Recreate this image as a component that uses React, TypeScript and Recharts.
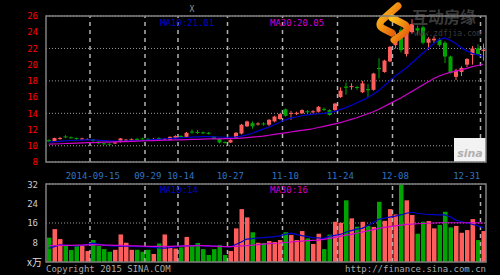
import { ComposedChart, Bar, Line, XAxis, YAxis, CartesianGrid, ReferenceLine, Cell } from "recharts";

// ─── Data ────────────────────────────────────────────────────────────────────
const DATES = [
  "09-02", "09-03", "09-04", "09-05", "09-09", "09-10", "09-11", "09-12",
  "09-15", "09-16", "09-17", "09-18", "09-19", "09-22", "09-23", "09-24", "09-25", "09-26",
  "09-29", "09-30", "10-08", "10-09", "10-10", "10-13", "10-14", "10-15", "10-16", "10-17",
  "10-20", "10-21", "10-22", "10-23", "10-24", "10-27", "10-28", "10-29", "10-30", "10-31",
  "11-03", "11-04", "11-05", "11-06", "11-07", "11-10", "11-11", "11-12", "11-13", "11-14",
  "11-17", "11-18", "11-19", "11-20", "11-21", "11-24", "11-25", "11-26", "11-27", "11-28",
  "12-01", "12-02", "12-03", "12-04", "12-05", "12-08", "12-09", "12-10", "12-11", "12-12",
  "12-15", "12-16", "12-17", "12-18", "12-19", "12-22", "12-23", "12-25", "12-26", "12-29",
  "12-30", "12-31",
];

const OPEN = [
  10.7, 10.5, 10.85, 11.15, 11.05, 10.95, 10.8, 10.78, 10.8, 10.5,
  10.3, 10.25, 10.3, 10.45, 10.65, 10.7, 10.85, 10.9, 10.85, 10.8,
  10.95, 10.8, 10.75, 10.95, 11.2, 11.1, 11.75, 11.7, 11.65, 11.6,
  11.15, 10.85, 10.45, 10.4, 11.0, 11.5, 12.4, 12.8, 12.65, 12.75,
  12.6, 13.0, 13.3, 14.5, 13.95, 13.95, 14.0, 14.25, 14.15, 14.2,
  14.55, 14.4, 14.4, 16.0, 17.3, 17.25, 17.25, 16.6, 17.0, 16.9,
  19.6, 19.1, 20.4, 22.4, 24.3, 21.3, 24.0, 24.5, 24.6, 22.7,
  23.0, 23.1, 22.7, 21.0, 18.5, 19.1, 20.0, 21.2, 22.0, 21.7,
];
const CLOSE = [
  10.55, 10.95, 10.95, 11.05, 10.98, 10.85, 10.9, 10.84, 10.6, 10.3,
  10.2, 10.2, 10.4, 10.9, 10.75, 10.8, 10.78, 10.85, 10.8, 10.85,
  10.85, 10.85, 11.1, 11.2, 11.1, 11.6, 11.65, 11.6, 11.55, 11.5,
  10.85, 10.4, 10.38, 10.7, 11.6, 12.6, 13.0, 12.4, 12.75, 12.65,
  13.2, 13.6, 13.9, 13.7, 14.05, 14.05, 14.4, 14.15, 14.25, 14.8,
  14.45, 13.8, 15.2, 16.8, 17.15, 17.35, 17.15, 17.7, 16.85, 18.9,
  19.45, 20.5, 22.2, 23.5, 21.8, 24.0, 25.0, 24.2, 22.7, 23.2,
  23.2, 22.4, 21.0, 19.0, 19.3, 19.6, 20.7, 22.0, 21.3, 21.85,
];
const HIGH = [
  10.8, 11.0, 11.1, 11.3, 11.15, 11.0, 11.0, 10.9, 10.85, 10.55,
  10.35, 10.3, 10.5, 10.95, 10.85, 10.9, 10.95, 11.0, 10.95, 10.95,
  11.05, 10.95, 11.15, 11.3, 11.3, 11.7, 12.0, 11.95, 11.75, 11.7,
  11.2, 10.9, 10.55, 10.8, 11.7, 12.7, 13.1, 13.0, 12.9, 12.9,
  13.3, 13.7, 14.0, 14.6, 14.3, 14.2, 14.5, 14.4, 14.4, 14.9,
  14.7, 14.5, 15.3, 17.2, 17.8, 17.7, 17.4, 18.0, 17.6, 19.0,
  20.8, 20.6, 22.3, 24.0, 24.6, 24.3, 25.6, 24.8, 24.8, 23.4,
  23.5, 23.3, 22.9, 21.1, 19.5, 19.8, 20.8, 22.3, 22.5, 22.6,
];
const LOW = [
  10.45, 10.45, 10.75, 10.95, 10.9, 10.75, 10.7, 10.7, 10.5, 10.2,
  10.15, 10.12, 10.25, 10.4, 10.55, 10.65, 10.7, 10.8, 10.75, 10.75,
  10.75, 10.7, 10.7, 10.9, 11.0, 11.05, 11.5, 11.45, 11.45, 11.4,
  10.8, 10.3, 10.3, 10.35, 10.95, 11.4, 12.3, 12.1, 12.5, 12.5,
  12.4, 12.9, 13.2, 13.6, 13.2, 13.8, 13.95, 14.0, 14.0, 14.1,
  14.3, 13.7, 14.3, 15.9, 16.3, 16.9, 16.9, 16.5, 16.0, 16.8,
  18.3, 19.0, 20.3, 22.0, 21.5, 21.0, 23.8, 23.6, 22.5, 21.8,
  22.6, 22.2, 20.2, 18.9, 18.1, 18.6, 19.7, 20.0, 21.2, 20.5,
];
const MA10 = [
  10.45, 10.5, 10.55, 10.6, 10.65, 10.68, 10.7, 10.72, 10.72, 10.68,
  10.64, 10.6, 10.57, 10.58, 10.58, 10.6, 10.62, 10.65, 10.7, 10.75,
  10.8, 10.85, 10.9, 10.95, 10.98, 11.02, 11.06, 11.1, 11.12, 11.12,
  11.1, 11.08, 11.05, 11.05, 11.1, 11.2, 11.35, 11.55, 11.8, 12.05,
  12.3, 12.6, 12.9, 13.2, 13.4, 13.55, 13.7, 13.8, 13.9, 13.95,
  14.0, 14.1, 14.25, 14.45, 14.7, 15.0, 15.3, 15.6, 15.95, 16.35,
  16.8, 17.4, 18.0, 18.6, 19.1, 19.6, 20.2, 20.8, 21.4, 22.0,
  22.6, 23.1, 23.3, 23.0, 22.6, 22.1, 21.7, 21.4, 21.2, 21.01,
];
const MA30 = [
  10.2, 10.22, 10.25, 10.28, 10.3, 10.32, 10.35, 10.38, 10.4, 10.42,
  10.44, 10.46, 10.48, 10.5, 10.52, 10.55, 10.57, 10.6, 10.62, 10.64,
  10.66, 10.68, 10.7, 10.72, 10.74, 10.76, 10.78, 10.8, 10.82, 10.84,
  10.85, 10.86, 10.87, 10.88, 10.9, 10.95, 11.0, 11.06, 11.12, 11.2,
  11.3, 11.4, 11.5, 11.6, 11.7, 11.8, 11.9, 12.0, 12.1, 12.25,
  12.4, 12.55, 12.7, 12.85, 13.05, 13.25, 13.45, 13.7, 13.95, 14.2,
  14.5, 14.85, 15.2, 15.55, 15.9, 16.3, 16.7, 17.1, 17.5, 17.9,
  18.3, 18.6, 18.85, 19.05, 19.2, 19.35, 19.55, 19.75, 19.9, 20.05,
];
const VOLUME = [
  10.0, 13.5, 9.4, 6.7, 4.9, 6.6, 6.6, 4.5, 9.0, 6.6,
  5.3, 4.2, 5.0, 11.3, 7.9, 5.0, 5.0, 4.2, 5.0, 3.3,
  7.6, 11.3, 6.3, 5.5, 6.0, 10.3, 6.7, 7.8, 5.3, 2.9,
  5.3, 7.0, 2.9, 4.5, 13.8, 21.7, 18.3, 12.2, 7.9, 7.8,
  8.6, 8.2, 9.0, 12.2, 11.1, 9.0, 12.7, 9.7, 7.4, 11.6,
  5.3, 11.2, 16.5, 16.1, 25.3, 17.9, 14.5, 16.5, 14.8, 14.4,
  24.7, 16.9, 21.7, 19.5, 31.8, 25.3, 19.3, 11.6, 16.5, 16.8,
  13.8, 15.2, 20.6, 14.2, 14.8, 12.0, 13.1, 17.6, 9.0, 12.7,
];
const VOL_MA10 = [
  5.6, 6.3, 7.0, 6.9, 6.7, 6.6, 6.8, 7.2, 7.7, 7.3,
  6.9, 6.6, 6.5, 6.6, 6.5, 6.4, 6.3, 6.3, 6.2, 6.0,
  5.8, 5.7, 5.9, 6.2, 6.5, 6.6, 6.7, 6.8, 6.6, 6.5,
  6.5, 6.4, 6.3, 6.2, 7.2, 8.2, 9.4, 9.6, 9.9, 10.0,
  10.2, 10.4, 10.7, 11.3, 11.8, 11.3, 10.8, 10.4, 10.0, 9.9,
  9.7, 10.5, 10.9, 11.3, 12.2, 12.9, 13.5, 13.8, 15.0, 16.2,
  17.5, 18.0, 18.4, 18.8, 19.3, 20.0, 20.4, 20.0, 19.7, 19.5,
  19.4, 19.3, 19.3, 18.5, 17.2, 16.5, 16.0, 15.5, 14.8, 14.1,
];
const VOL_MA30 = [
  6.7, 6.7, 6.8, 6.8, 6.8, 6.9, 6.9, 7.0, 7.1, 7.0,
  6.9, 6.9, 6.8, 6.8, 6.7, 6.6, 6.6, 6.5, 6.4, 6.4,
  6.4, 6.4, 6.4, 6.5, 6.5, 6.6, 6.6, 6.7, 6.7, 6.6,
  6.5, 6.4, 6.3, 6.3, 6.4, 6.6, 6.7, 6.9, 7.1, 7.3,
  7.5, 7.7, 7.8, 8.0, 8.2, 8.4, 8.6, 8.8, 8.9, 9.0,
  9.3, 9.7, 10.1, 10.5, 11.0, 11.3, 11.8, 12.3, 12.8, 13.3,
  13.8, 14.2, 14.5, 14.8, 15.1, 15.4, 15.5, 15.7, 15.8, 15.9,
  16.0, 16.1, 16.1, 16.1, 16.1, 16.1, 16.1, 16.1, 16.05, 16.0,
];

const DATE_TICKS = ["09-15", "09-29", "10-14", "10-27", "11-10", "11-24", "12-08", "12-31"];
const PRICE_TICKS = [8, 10, 12, 14, 16, 18, 20, 22, 24, 26];
const VOL_TICKS = [8, 16, 24, 32];

const rows = DATES.map((date, i) => ({
  date,
  open: OPEN[i],
  close: CLOSE[i],
  high: HIGH[i],
  low: LOW[i],
  ma10: MA10[i],
  ma30: MA30[i],
  volume: VOLUME[i],
  vma10: VOL_MA10[i],
  vma30: VOL_MA30[i],
}));

// ─── Styles ──────────────────────────────────────────────────────────────────
const RED = "#ff5c5c";
const GREEN = "#00a400";
const BLUE = "#0000d0";
const MAGENTA = "#d000d0";
const MONO = "'DejaVu Sans Mono', monospace";
const W = 500;
const MARGIN = { top: 16, right: 14, bottom: 0, left: 0 };

function Candle(props: any) {
  const { x, y, width, height, payload } = props;
  if (x == null || y == null || !payload) return null;
  const { open, close, high, low } = payload;
  const top = Math.min(y, y + height);
  const h = Math.abs(height);
  const k = high === low ? 0 : h / (high - low);
  const oY = top + (high - open) * k;
  const cY = top + (high - close) * k;
  const color = close >= open ? RED : GREEN;
  const cx = x + width / 2;
  return (
    <g>
      <line x1={cx} x2={cx} y1={top} y2={top + h} stroke={color} strokeWidth={1} />
      <rect x={x} y={Math.min(oY, cY)} width={width} height={Math.max(1, Math.abs(oY - cY))} fill={color} />
    </g>
  );
}

function DateTick(props: any) {
  const { x, y, payload } = props;
  const last = payload.value === "12-31";
  const label = payload.value === "09-15" ? "2014-09-15" : payload.value;
  return (
    <text
      x={last ? x - 3 : x}
      y={y + 9}
      textAnchor={last ? "end" : "middle"}
      fill="#2f74c0"
      fontFamily={MONO}
      fontSize={9}
    >
      {label}
    </text>
  );
}

// decorations, legends and frame drawn over both panels
function Overlay() {
  return (
    <svg width={W} height={275} style={{ position: "absolute", left: 0, top: 0, pointerEvents: "none" }}>
      <defs>
        <linearGradient id="logoGrad" x1="0" y1="0" x2="1" y2="1">
          <stop offset="0%" stopColor="#ffc21a" />
          <stop offset="100%" stopColor="#e2560a" />
        </linearGradient>
      </defs>
      <path d="M398 6 L382 20 Q377 26 384 29 L392 33" stroke="url(#logoGrad)" strokeWidth={7} fill="none" strokeLinecap="round" />
      <path d="M392 18 L404 24 Q410 28 404 33 L394 40" stroke="url(#logoGrad)" strokeWidth={7} fill="none" strokeLinecap="round" />
      <text x={412} y={23} fill="#3a3a3a" fontFamily="'Noto Sans CJK SC'" fontSize={16} fontWeight={700}>互动房缘</text>
      <text x={414} y={36} fill="#3a3a3a" fontFamily={MONO} fontSize={8}>www.zdfjia.com</text>
      <text x={192} y={12} fill="#999" fontFamily={MONO} fontSize={8} textAnchor="middle">X</text>
      <text x={160} y={26} fill={BLUE} fontFamily={MONO} fontSize={9}>MA10:21.01</text>
      <text x={270} y={26} fill={MAGENTA} fontFamily={MONO} fontSize={9}>MA30:20.05</text>
      <text x={160} y={193} fill={BLUE} fontFamily={MONO} fontSize={9}>MA10:14</text>
      <text x={270} y={193} fill={MAGENTA} fontFamily={MONO} fontSize={9}>MA30:16</text>
      <text x={27} y={266} fill="#ddd" fontFamily="'Noto Sans CJK SC'" fontSize={10}>x万</text>
      <text x={46} y={272} fill="#aaa" fontFamily={MONO} fontSize={9}>Copyright 2015 SINA.COM</text>
      <text x={486} y={272} fill="#aaa" fontFamily={MONO} fontSize={9} textAnchor="end">http://finance.sina.com.cn</text>
      <rect x={454} y={138} width={32} height={24} fill="#f2f2f2" />
      <text x={470} y={157} fill="#b0b0b0" fontFamily="'DejaVu Sans'" fontSize={11} fontStyle="italic" fontWeight={700} textAnchor="middle">sina</text>
      <rect x={46} y={16} width={440} height={146} fill="none" stroke="#808080" strokeWidth={1.5} />
      <rect x={46} y={184} width={440} height={78} fill="none" stroke="#808080" strokeWidth={1.5} />
    </svg>
  );
}

export default function App() {
  return (
    <div style={{ position: "absolute", left: 0, top: 0, width: W, height: 275, background: "#000", overflow: "hidden" }}>
      <div style={{ position: "absolute", left: 0, top: 0 }}>
        <ComposedChart width={W} height={180} data={rows} margin={MARGIN}>
          <CartesianGrid vertical={false} stroke="#9a9a9a" strokeDasharray="1 2" />
          <XAxis
            dataKey="date"
            ticks={DATE_TICKS}
            interval={0}
            height={18}
            axisLine={false}
            tickLine={false}
            tick={<DateTick />}
          />
          <YAxis
            domain={[8, 26]}
            ticks={PRICE_TICKS}
            width={46}
            axisLine={false}
            tickLine={false}
            tickMargin={2}
            tick={{ fill: "#ff0000", fontFamily: MONO, fontSize: 9 }}
          />
          {DATE_TICKS.map((d) => (
            <ReferenceLine key={d} x={d} position="start" stroke="#b0b0b0" strokeWidth={1.5} strokeDasharray="4 4" />
          ))}
          <Bar dataKey={(d: any) => [d.low, d.high]} shape={<Candle />} barSize={4} isAnimationActive={false} />
          <Line dataKey="ma10" stroke={BLUE} strokeWidth={1.2} dot={false} isAnimationActive={false} />
          <Line dataKey="ma30" stroke={MAGENTA} strokeWidth={1.2} dot={false} isAnimationActive={false} />
        </ComposedChart>
      </div>
      <div style={{ position: "absolute", left: 0, top: 180 }}>
        <ComposedChart width={W} height={82} data={rows} margin={{ top: 4, right: 14, bottom: 0, left: 0 }} barCategoryGap={1}>
          <CartesianGrid vertical={false} stroke="#9a9a9a" strokeDasharray="1 2" />
          <XAxis dataKey="date" hide />
          <YAxis
            domain={[0, 32]}
            ticks={VOL_TICKS}
            width={46}
            axisLine={false}
            tickLine={false}
            tickMargin={2}
            tick={{ fill: "#cccccc", fontFamily: MONO, fontSize: 9 }}
          />
          {DATE_TICKS.map((d) => (
            <ReferenceLine key={d} x={d} position="start" stroke="#b0b0b0" strokeWidth={1.5} strokeDasharray="4 4" />
          ))}
          <Bar dataKey="volume" barSize={4.5} isAnimationActive={false}>
            {rows.map((r) => (
              <Cell key={r.date} fill={r.close >= r.open ? RED : GREEN} />
            ))}
          </Bar>
          <Line dataKey="vma10" stroke={BLUE} strokeWidth={1.2} dot={false} isAnimationActive={false} />
          <Line dataKey="vma30" stroke={MAGENTA} strokeWidth={1.2} dot={false} isAnimationActive={false} />
        </ComposedChart>
      </div>
      <Overlay />
    </div>
  );
}
